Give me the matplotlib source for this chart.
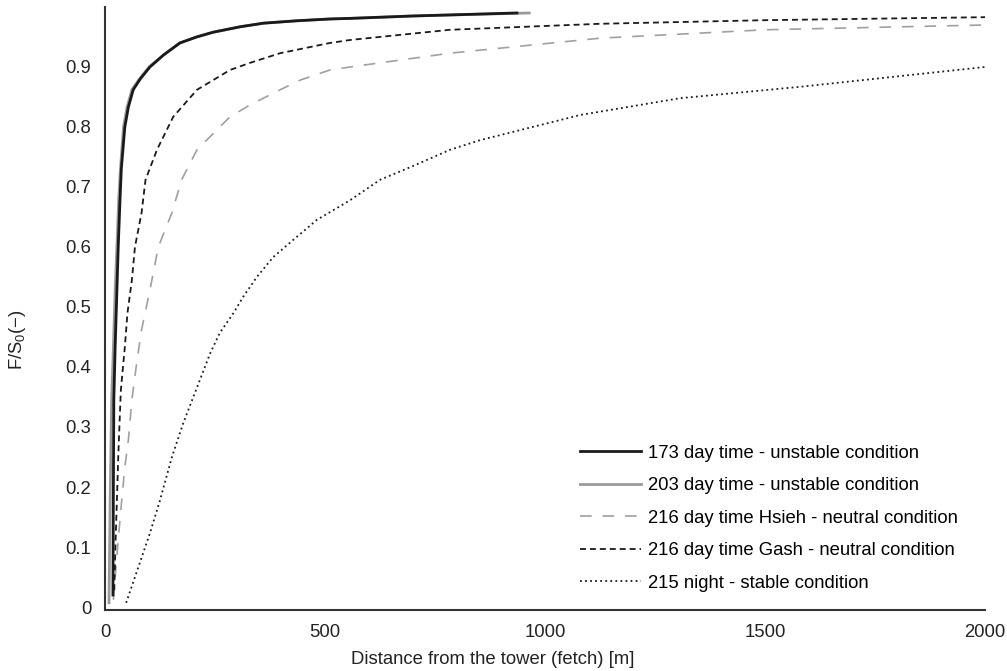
import matplotlib
matplotlib.use("Agg")
import matplotlib.pyplot as plt

plt.rcParams['font.family'] = ['Liberation Sans', 'DejaVu Sans']
plt.rcParams['mathtext.fontset'] = 'custom'
plt.rcParams['mathtext.rm'] = 'Liberation Sans'

# Curves (distance in m, F/S0)
x_173 = [18, 19, 20, 23, 27, 30, 34, 37, 45, 53, 64, 80, 102, 133, 170, 208, 246, 307, 360, 436,
         511, 557, 700, 936]
y_173 = [0.02, 0.2, 0.345, 0.433, 0.528, 0.6, 0.678, 0.73, 0.8, 0.833, 0.862, 0.88, 0.9, 0.92,
         0.94, 0.95, 0.958, 0.967, 0.973, 0.977, 0.98, 0.981, 0.985, 0.99]

x_203 = [9, 12, 15, 19, 23, 27, 31, 35, 42, 50, 61, 78, 100, 133, 170, 208, 246, 307, 360, 436,
         511, 557, 700, 964]
y_203 = [0.007, 0.2, 0.345, 0.433, 0.528, 0.6, 0.678, 0.73, 0.8, 0.833, 0.862, 0.88, 0.9, 0.92,
         0.94, 0.95, 0.958, 0.967, 0.973, 0.977, 0.98, 0.981, 0.985, 0.99]

x_hsieh = [19, 23, 30, 38, 45, 53, 61, 64, 72, 83, 102, 121, 152, 174, 209, 284, 330, 398, 443,
           511, 557, 784, 1125, 1500, 2000]
y_hsieh = [0.012, 0.05, 0.112, 0.178, 0.233, 0.278, 0.345, 0.362, 0.407, 0.462, 0.528, 0.6,
           0.657, 0.712, 0.762, 0.817, 0.837, 0.862, 0.878, 0.895, 0.90, 0.923, 0.948, 0.962, 0.97]

x_gash = [21, 24, 27, 30, 33, 36, 45, 51, 61, 68, 83, 92, 118, 155, 209, 284, 330, 398, 511, 557,
          784, 1125, 1500, 2000]
y_gash = [0.028, 0.112, 0.178, 0.25, 0.307, 0.362, 0.433, 0.49, 0.545, 0.6, 0.657, 0.712, 0.762,
          0.817, 0.862, 0.895, 0.907, 0.923, 0.94, 0.945, 0.962, 0.972, 0.978, 0.983]

x_night = [48, 76, 102, 125, 152, 178, 207, 239, 261, 292, 314, 345, 382, 428, 481, 557, 625,
           700, 784, 852, 1080, 1307, 1580, 2000]
y_night = [0.007, 0.067, 0.123, 0.178, 0.25, 0.307, 0.362, 0.423, 0.457, 0.49, 0.517, 0.55,
           0.583, 0.612, 0.645, 0.678, 0.712, 0.735, 0.762, 0.778, 0.82, 0.848, 0.867, 0.90]

labels = [
    "173 day time - unstable condition",
    "203 day time - unstable condition",
    "216 day time Hsieh - neutral condition",
    "216 day time Gash - neutral condition",
    "215 night - stable condition",
]

x_ticks = [0, 500, 1000, 1500, 2000]
y_ticks = [0, 0.1, 0.2, 0.3, 0.4, 0.5, 0.6, 0.7, 0.8, 0.9]

fig = plt.figure(figsize=(10.07, 6.71), dpi=100)
ax = fig.add_axes([0.1043, 0.0909, 0.874, 0.8987])

ax.plot(x_173, y_173, color="#1a1a1a", lw=2.0, label=labels[0], zorder=4)
ax.plot(x_203, y_203, color="#9a9a9a", lw=2.0, label=labels[1], zorder=3)
ax.plot(x_hsieh, y_hsieh, color="#a0a0a0", lw=1.2, dashes=(7, 6.5), label=labels[2])
ax.plot(x_gash, y_gash, color="#1a1a1a", lw=1.3, dashes=(3.3, 2.2), label=labels[3])
ax.plot(x_night, y_night, color="#1a1a1a", lw=1.3, dashes=(1, 1.8), label=labels[4])

ax.set_xlim(0, 2000)
ax.set_ylim(-0.005, 1.0)
ax.set_xticks(x_ticks)
ax.set_xticklabels([str(v) for v in x_ticks])
ax.set_yticks(y_ticks)
ax.set_yticklabels(["0"] + ["%.1f" % v for v in y_ticks[1:]])
ax.tick_params(length=0, labelsize=13.3, colors="#222222", pad=10)

for side in ["top", "right"]:
    ax.spines[side].set_visible(False)
for side in ["left", "bottom"]:
    ax.spines[side].set_color("#333333")
    ax.spines[side].set_linewidth(1.5)

ax.set_xlabel("Distance from the tower (fetch) [m]", fontsize=13.3, color="#222222")
ax.xaxis.set_label_coords(0.44, -0.068)
ax.set_ylabel("F/S$_\\mathregular{0}$(\u2212)", fontsize=13.3, color="#222222")
ax.yaxis.set_label_coords(-0.087, 0.448)

ax.legend(loc="upper left", bbox_to_anchor=(0.576, 0.337), bbox_transform=fig.transFigure,
          frameon=False, fontsize=13.3, handlelength=3.3, handletextpad=0.38,
          labelspacing=0.84, borderpad=0, borderaxespad=0)

fig.savefig("out.png", dpi=100)
plt.close(fig)
